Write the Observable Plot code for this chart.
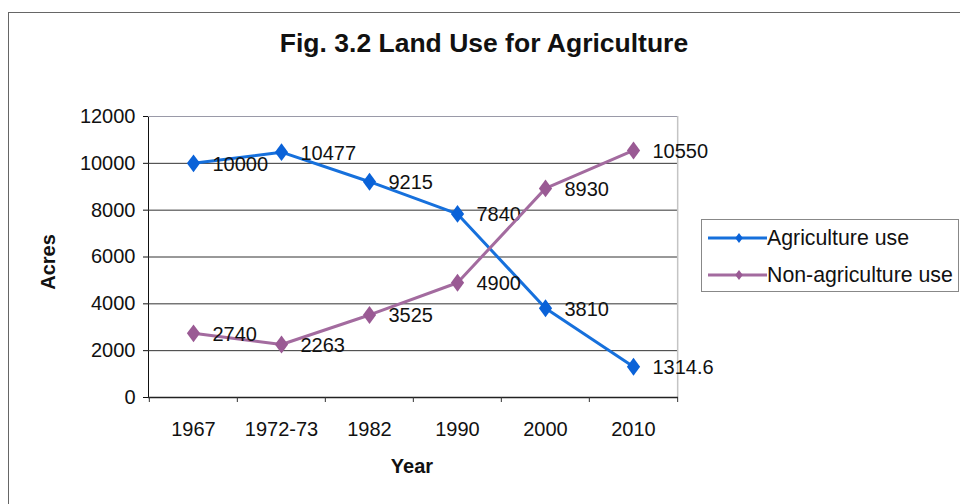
<!DOCTYPE html>
<html>
<head>
<meta charset="utf-8">
<script src="https://cdn.jsdelivr.net/npm/d3@7"></script>
<script src="https://cdn.jsdelivr.net/npm/@observablehq/plot@0.6"></script>
<style>
  body { margin: 0; background: #fff; font-family: "Liberation Sans", Arial, sans-serif; color: #111; }
  #wrap { position: relative; width: 960px; height: 504px; overflow: hidden; background: #fff; }
  #border { position: absolute; left: 8px; top: 12px; width: 970px; height: 510px;
            border-left: 1.5px solid #666; border-top: 1.5px solid #666; }
  #chart { position: absolute; left: 0; top: 0; }
  #title { position: absolute; left: 0; top: 29px; width: 968px; text-align: center;
           font-weight: bold; font-size: 26.5px; line-height: 28px; }
  #ylabel { position: absolute; left: 48px; top: 262px; transform: translate(-50%, -50%) rotate(-90deg);
            font-weight: bold; font-size: 20px; white-space: nowrap; }
  #xlabel { position: absolute; left: 412px; top: 456px; transform: translateX(-50%);
            font-weight: bold; font-size: 20px; line-height: 20px; }
  #legend { position: absolute; left: 701px; top: 219px; width: 258px; height: 73px;
            border: 1px solid #888; box-sizing: border-box; background: #fff; }
  .item { position: absolute; left: 5px; height: 26px; display: flex; align-items: center;
          font-size: 21.3px; white-space: nowrap; }
</style>
</head>
<body>
<div id="wrap">
  <div id="border"></div>
  <div id="chart"></div>
  <div id="title">Fig. 3.2 Land Use for Agriculture</div>
  <div id="ylabel">Acres</div>
  <div id="xlabel">Year</div>
  <div id="legend"></div>
</div>
<script>
// Survey years and the two land-use series (acres)
const years = ["1967", "1972-73", "1982", "1990", "2000", "2010"];
const agriculture = [10000, 10477, 9215, 7840, 3810, 1314.6];
const nonAgriculture = [2740, 2263, 3525, 4900, 8930, 10550];
const yTicks = [0, 2000, 4000, 6000, 8000, 10000, 12000];
const seriesNames = ["Agriculture use", "Non-agriculture use"];
const lineColors = ["#1670dc", "#a36b9f"];
const markerColors = ["#0a62d8", "#9a5a94"];

const seriesValues = [agriculture, nonAgriculture];
const series = seriesNames.map((name, s) =>
  years.map((year, i) => ({year, value: seriesValues[s][i], series: name}))
);

// a slightly tall diamond marker
const tallDiamond = {
  draw(context, size) {
    const h = Math.sqrt(size) * 0.72, w = h * 0.74;
    context.moveTo(0, -h);
    context.lineTo(w, 0);
    context.lineTo(0, h);
    context.lineTo(-w, 0);
    context.closePath();
  }
};

const W = 960, H = 504;
const mL = 148, mR = 282, mT = 116, mB = 107;
const step = (W - mL - mR) / years.length; // width of one category slot
const lastYear = years[years.length - 1];

const seriesMarks = series.flatMap((rows, s) => [
  Plot.line(rows, {x: "year", y: "value", stroke: lineColors[s], strokeWidth: 3}),
  Plot.dot(rows, {x: "year", y: "value", fill: markerColors[s], symbol: tallDiamond, r: 7}),
  Plot.text(rows, {x: "year", y: "value", text: d => String(d.value),
                   textAnchor: "start", dx: 19, dy: 1, fill: "#111", fontSize: 20})
]);

const chart = Plot.plot({
  width: W, height: H,
  marginLeft: mL, marginRight: mR, marginTop: mT, marginBottom: mB,
  style: {fontFamily: "'Liberation Sans', Arial, sans-serif", fontSize: "20px", color: "#111", background: "transparent"},
  x: {type: "point", domain: years, padding: 0.5, tickSize: 0, tickPadding: 24, label: null},
  y: {domain: [0, 12000], ticks: yTicks, tickFormat: d => String(d), tickSize: 5, tickPadding: 8, label: null, line: true},
  marks: [
    // horizontal gridlines
    Plot.ruleY(yTicks.filter(v => v > 0 && v < 12000), {stroke: "#333", strokeWidth: 1}),
    Plot.ruleY([12000], {stroke: "#9a9aa8", strokeWidth: 1}),
    // right edge of the plot area
    Plot.ruleX([lastYear], {dx: step / 2, stroke: "#c4c4c4", strokeWidth: 1.5}),
    // category axis and its ticks between categories
    Plot.ruleY([0], {stroke: "#222", strokeWidth: 1.5}),
    Plot.ruleX(years, {y1: 0, y2: 0, dx: -step / 2, insetBottom: -5, stroke: "#333"}),
    Plot.ruleX([lastYear], {y1: 0, y2: 0, dx: step / 2, insetBottom: -5, stroke: "#333"}),
    ...seriesMarks
  ]
});
document.getElementById("chart").append(chart);

// legend entries: line sample with a diamond, then the series name
const legend = d3.select("#legend");
seriesNames.forEach((name, s) => {
  const item = legend.append("div").attr("class", "item").style("top", (5 + s * 37) + "px");
  const svg = item.append("svg").attr("width", 60).attr("height", 14);
  svg.append("line").attr("x1", 1).attr("x2", 60).attr("y1", 7).attr("y2", 7)
    .attr("stroke", lineColors[s]).attr("stroke-width", 3);
  svg.append("path").attr("d", d3.symbol(tallDiamond, 50)())
    .attr("transform", "translate(32,7)").attr("fill", markerColors[s]);
  item.append("span").text(name);
});
</script>
</body>
</html>
